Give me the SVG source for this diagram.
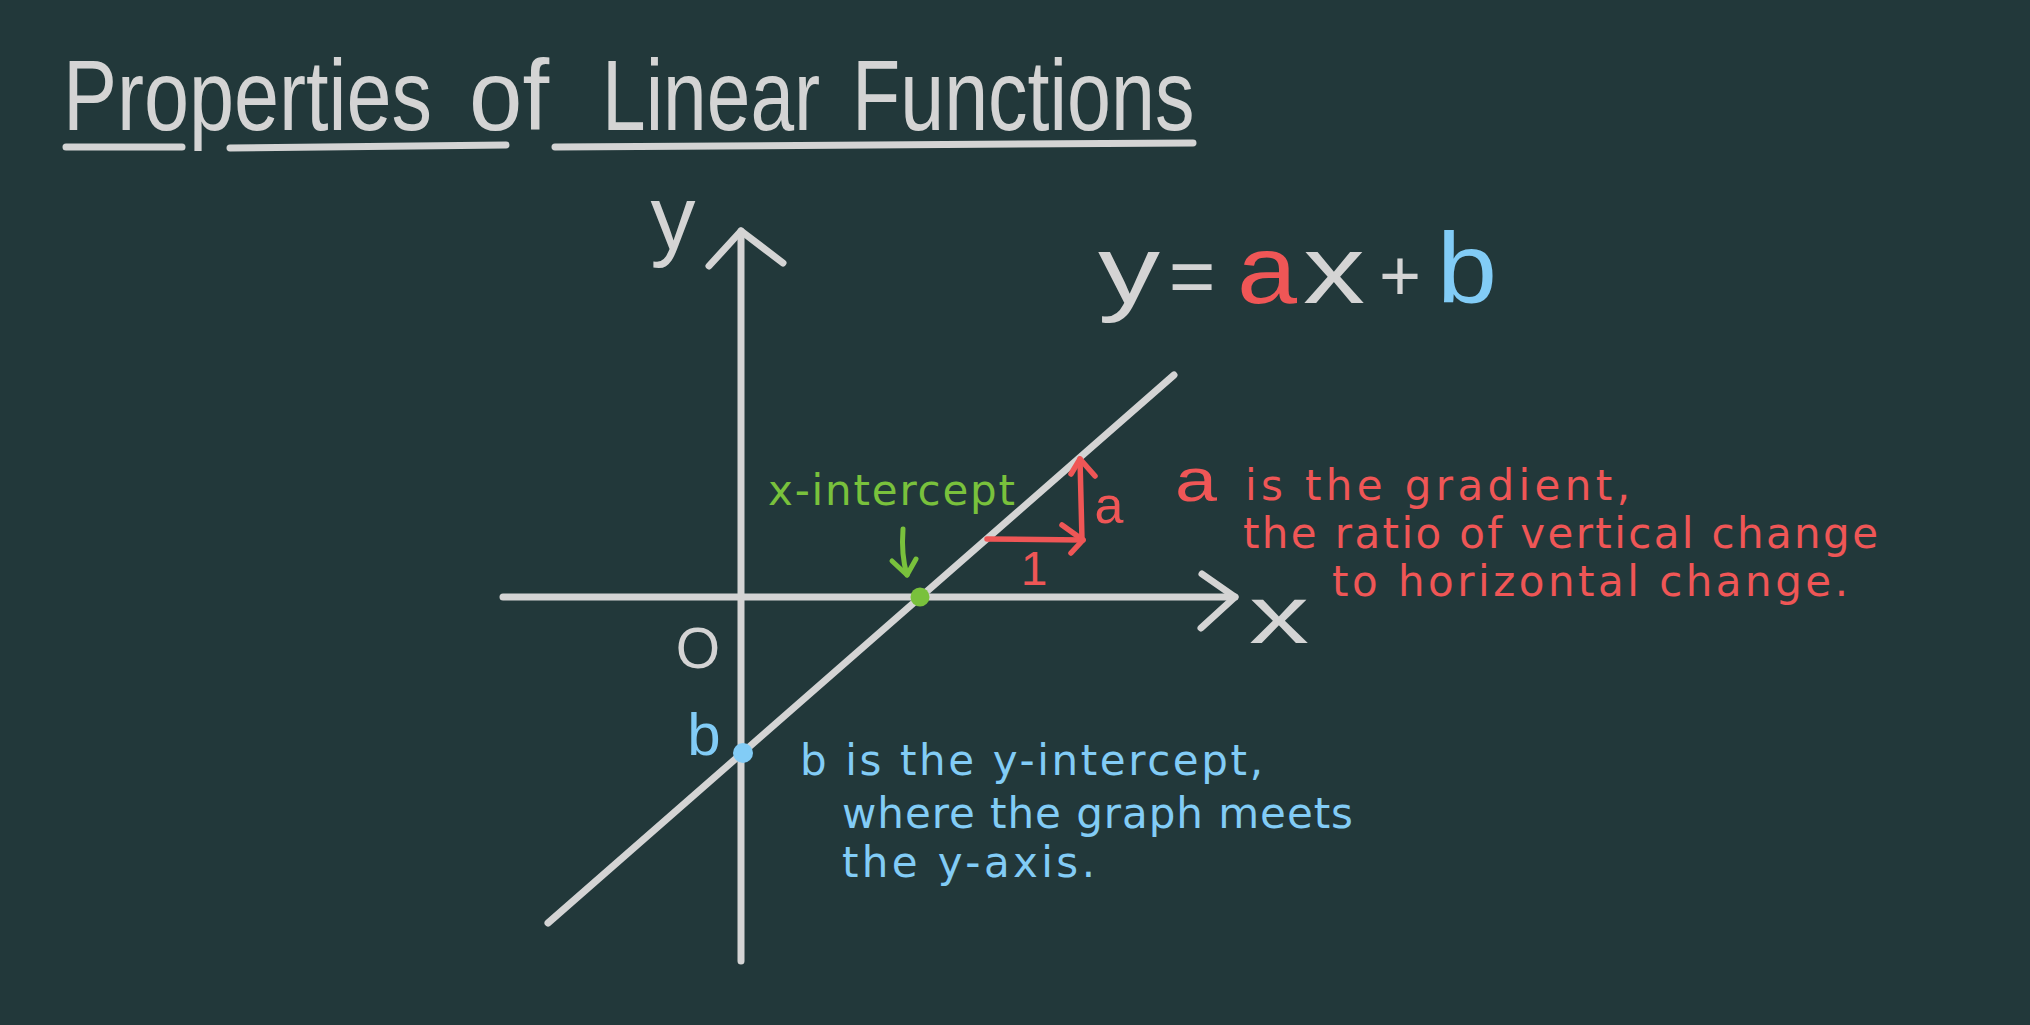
<svg xmlns="http://www.w3.org/2000/svg" width="2030" height="1025" viewBox="0 0 2030 1025">
  <style>
    .grey { fill: #d4d4d4; }
    .red { fill: #ef5656; }
    .blue { fill: #82ccf6; }
    .green { fill: #79c13c; }
    .title { font-family: "Liberation Sans", Arial, sans-serif; font-size: 100px; }
    .sym { font-family: "Liberation Sans", Arial, sans-serif; }
    .hand { font-family: "DejaVu Sans", "Liberation Sans", sans-serif; font-size: 42px; }
    .gline { stroke: #d4d4d4; stroke-width: 7; stroke-linecap: round; stroke-linejoin: round; fill: none; }
    .rline { stroke: #ef5656; stroke-width: 5.5; stroke-linecap: round; stroke-linejoin: round; fill: none; }
    .grnline { stroke: #79c13c; stroke-width: 5; stroke-linecap: round; stroke-linejoin: round; fill: none; }
  </style>
  <rect x="0" y="0" width="2030" height="1025" fill="#22383a"/>

  <g id="title">
    <text class="title grey" transform="translate(63 130) scale(0.81 1)">Properties</text>
    <text class="title grey" transform="translate(469 130) scale(0.96 1)">of</text>
    <text class="title grey" transform="translate(602 130) scale(0.785 1)">Linear</text>
    <text class="title grey" transform="translate(852 130) scale(0.79 1)">Functions</text>
    <path class="gline" d="M66 147 L182 147 M230 148 L506 145 M555 147 L1193 143" stroke-width="8"/>
  </g>

  <g id="axes">
    <path id="y-axis" class="gline" d="M741 961 L741 231"/>
    <path id="y-axis-head" class="gline" d="M709 266 L741 231 L783 263"/>
    <path id="x-axis" class="gline" d="M503 597 L1235 597"/>
    <path id="x-axis-head" class="gline" d="M1202 574 L1235 597 L1201 628"/>
    <text class="sym grey" x="673" y="249" font-size="90" text-anchor="middle">y</text>
    <text class="sym grey" x="1249" y="643" font-size="82" textLength="60" lengthAdjust="spacingAndGlyphs">x</text>
    <text class="sym grey" x="698" y="668" font-size="57" text-anchor="middle">O</text>
  </g>

  <g id="graph-line">
    <path class="gline" d="M548 923 L1174 375"/>
  </g>

  <g id="equation">
    <text class="sym grey" x="1098" y="303" font-size="96" textLength="62" lengthAdjust="spacingAndGlyphs">y</text>
    <text class="sym grey" x="1192" y="303" font-size="80" text-anchor="middle">=</text>
    <text class="sym red" x="1237" y="303" font-size="96" textLength="60" lengthAdjust="spacingAndGlyphs">a</text>
    <text class="sym grey" x="1303" y="303" font-size="96" textLength="62" lengthAdjust="spacingAndGlyphs">x</text>
    <text class="sym grey" x="1400" y="300" font-size="72" text-anchor="middle">+</text>
    <text class="sym blue" x="1437" y="303" font-size="100" textLength="60" lengthAdjust="spacingAndGlyphs">b</text>
  </g>

  <g id="x-intercept">
    <circle class="green" cx="920" cy="597" r="9.5"/>
    <path class="grnline" d="M903 529 Q901 555 907 575"/>
    <path class="grnline" d="M892 561 L907 575 L916 559"/>
    <text class="hand green" x="768" y="505" font-size="40" textLength="247" lengthAdjust="spacing">x-intercept</text>
  </g>

  <g id="y-intercept">
    <circle class="blue" cx="743" cy="753" r="10"/>
    <text class="sym blue" x="704" y="755" font-size="60" text-anchor="middle">b</text>
  </g>

  <g id="gradient-triangle">
    <path class="rline" d="M987 539 L1083 540"/>
    <path class="rline" d="M1062 525 L1083 540 L1071 553"/>
    <path class="rline" d="M1082 540 L1080 459"/>
    <path class="rline" d="M1071 474 L1080 459 L1095 476"/>
    <text class="sym red" x="1034" y="585" font-size="48" text-anchor="middle">1</text>
    <text class="sym red" x="1109" y="523" font-size="52" text-anchor="middle">a</text>
  </g>

  <g id="gradient-note">
    <text class="sym red" x="1175" y="501" font-size="62" textLength="42" lengthAdjust="spacingAndGlyphs">a</text>
    <text class="hand red" x="1245" y="500" textLength="385" lengthAdjust="spacing">is the gradient,</text>
    <text class="hand red" x="1243" y="548" textLength="635" lengthAdjust="spacing">the ratio of vertical change</text>
    <text class="hand red" x="1332" y="596" textLength="516" lengthAdjust="spacing">to horizontal change.</text>
  </g>

  <g id="intercept-note">
    <text class="hand blue" x="800" y="775" textLength="463" lengthAdjust="spacing">b is the y-intercept,</text>
    <text class="hand blue" x="842" y="828" textLength="511" lengthAdjust="spacing">where the graph meets</text>
    <text class="hand blue" x="842" y="877" textLength="253" lengthAdjust="spacing">the y-axis.</text>
  </g>
</svg>
